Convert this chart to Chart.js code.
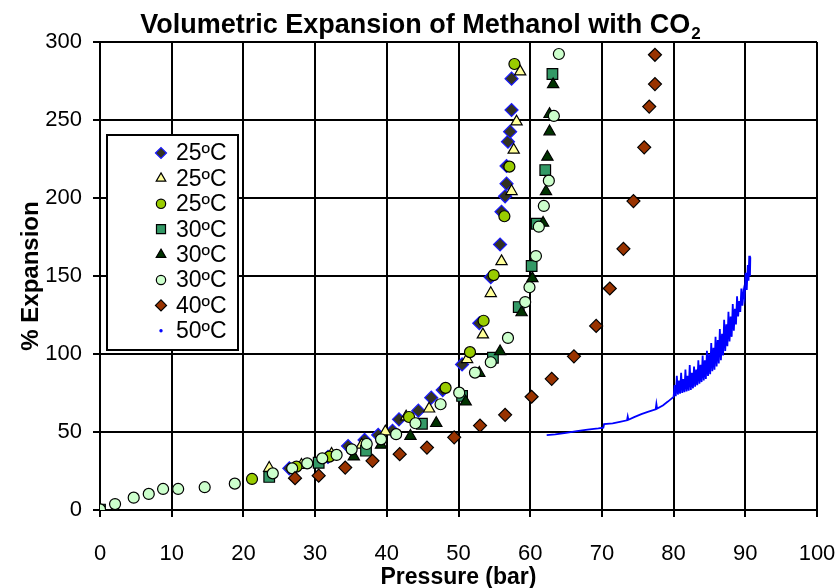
<!DOCTYPE html>
<html>
<head>
<meta charset="utf-8">
<script src="https://cdn.jsdelivr.net/npm/chart.js@4.4.0/dist/chart.umd.min.js"></script>
<style>
  html, body { margin: 0; padding: 0; background: #fff; }
  #wrap { width: 839px; height: 588px; }
</style>
</head>
<body>
<div id="wrap"><canvas id="grafico" width="839" height="588"></canvas></div>
<script>
// ---------------- DATOS ----------------

// 25°C (rombos)
const pres25a = [26.4, 31.8, 34.6, 36.9, 38.8, 40.8, 41.7, 44.4, 46.2, 47.8, 50.5, 52.9, 54.5, 55.8, 56.0, 56.5, 56.7, 56.7, 56.9, 57.2, 57.4, 57.4];
const exp25a  = [26.7, 34.0, 41.0, 44.9, 48.1, 50.8, 58.1, 63.7, 72.0, 76.9, 93.3, 119.7, 149.2, 170.2, 191.2, 201.1, 209.2, 220.5, 236.1, 242.5, 256.4, 276.5];

// 25°C (triangulos claros)
const pres25b = [23.6, 28.1, 32.3, 36.5, 39.8, 42.7, 45.9, 51.2, 53.4, 54.5, 56.0, 57.4, 57.7, 58.1, 58.6];
const exp25b  = [26.9, 28.8, 35.9, 41.7, 50.2, 59.8, 64.9, 96.6, 112.4, 138.9, 159.4, 204.3, 230.8, 248.9, 281.0];

// 25°C (circulos verde limon)
const pres25c = [21.2, 27.4, 32.0, 43.1, 48.2, 51.6, 53.5, 54.9, 56.4, 57.1, 57.8];
const exp25c  = [19.9, 27.8, 34.2, 59.6, 78.3, 101.2, 121.3, 150.6, 188.3, 220.1, 285.9];

// 30°C (cuadrados)
const pres30a = [0, 23.6, 30.5, 37.1, 44.9, 50.5, 54.8, 58.4, 60.2, 60.9, 62.1, 63.1];
const exp30a  = [0.3, 21.2, 30.3, 38.0, 55.3, 73.1, 97.6, 130.1, 156.4, 183.5, 217.9, 279.5];

// 30°C (triangulos oscuros)
const pres30b = [35.4, 39.2, 43.3, 46.9, 51.0, 52.9, 55.8, 58.8, 60.3, 61.8, 62.2, 62.4, 62.7, 62.7, 63.2];
const exp30b  = [34.2, 41.7, 47.4, 55.6, 69.4, 87.8, 101.6, 126.6, 148.5, 184.0, 204.2, 226.3, 242.6, 253.7, 272.8];

// 30°C (circulos verde claro)
const pres30c = [0, 2.1, 4.7, 6.8, 8.8, 10.9, 14.6, 18.8, 24.1, 26.8, 28.9, 31.0, 33.0, 35.1, 37.2, 39.2, 41.3, 44.0, 47.5, 50.1, 52.3, 54.5, 56.9, 59.3, 59.9, 60.8, 61.2, 61.9, 62.6, 63.3, 64.0];
const exp30c  = [0.4, 3.8, 7.9, 10.3, 13.5, 13.5, 14.6, 16.9, 23.5, 26.7, 29.9, 33.1, 35.3, 38.9, 42.3, 45.3, 48.6, 55.6, 67.8, 75.2, 88.1, 94.7, 110.3, 133.3, 142.8, 162.8, 181.6, 194.9, 211.1, 252.6, 292.3];

// 40°C (rombos marrones)
const pres40 = [27.2, 30.5, 34.2, 38.0, 41.8, 45.6, 49.4, 53.0, 56.5, 60.2, 63.0, 66.1, 69.2, 71.1, 73.0, 74.4, 75.9, 76.6, 77.4, 77.4];
const exp40  = [20.4, 22.0, 27.2, 31.5, 35.8, 40.0, 46.6, 54.1, 61.0, 72.6, 84.1, 98.5, 118, 142, 167.4, 198, 232.5, 258.6, 273, 291.8];

// 50°C (registro continuo, linea azul con ruido)
const pres50 = [62.3, 63.5, 65.0, 66.5, 68.0, 69.5, 70.2, 70.3, 71.5, 72.5, 73.5, 73.6, 73.7, 74.5, 75.5, 76.5, 77.5, 77.6, 77.7, 78.5, 79.2,
                80.0, 80.15, 80.3, 80.45, 80.6, 80.75, 80.9, 81.05, 81.2, 81.35, 81.5, 81.65, 81.8, 81.95, 82.1, 82.25, 82.4, 82.55, 82.7, 82.85,
                83.0, 83.15, 83.3, 83.45, 83.6, 83.75, 83.9, 84.05, 84.2, 84.35, 84.5, 84.65, 84.8, 84.95, 85.1, 85.25, 85.4, 85.55, 85.7, 85.85,
                86.0, 86.15, 86.3, 86.45, 86.6, 86.75, 86.9, 87.05, 87.2, 87.35, 87.5, 87.65, 87.8, 87.95, 88.1, 88.25, 88.4, 88.55, 88.7, 88.85,
                89.0, 89.15, 89.3, 89.45, 89.6, 89.75, 89.9, 90.05, 90.2, 90.35, 90.45, 90.55, 90.65, 90.7];
const exp50  = [48, 48.5, 49.5, 50.5, 51.5, 52.3, 52.8, 55, 55.5, 56.5, 57.5, 60, 57.8, 59.5, 61.5, 63, 64.5, 68, 65, 67, 69.5,
                72.5, 80, 73, 86, 74, 83, 74.5, 88, 75, 84, 75.5, 90, 76, 86, 76.5, 93, 77, 88, 78, 92,
                79, 90, 80, 96, 81, 93, 82, 99, 83, 96, 84, 102, 86, 100, 87, 107, 89, 104, 90, 111,
                92, 109, 94, 116, 96, 113, 99, 122, 102, 119, 105, 127, 108, 124, 111, 132, 115, 129, 119, 137,
                124, 134, 127, 142, 131, 140, 136, 152, 141, 157, 147, 163, 150, 162];

const etiquetas = ['25ºC', '25ºC', '25ºC', '30ºC', '30ºC', '30ºC', '40ºC', '50ºC'];
const xTicks = [0, 10, 20, 30, 40, 50, 60, 70, 80, 90, 100];
const yTicks = [0, 50, 100, 150, 200, 250, 300];

// ---------------- HELPERS ----------------

function pares(xs, ys) {
    return xs.map((x, i) => ({ x: x, y: ys[i] }));
}

const FUENTE = "'Liberation Sans', Arial, sans-serif";

// estilos de cada serie (marcadores tipo Excel)
const estilos = [
    { pointStyle: 'rectRot',  radius: 6.5, bg: '#333322', border: '#1a1aff' },
    { pointStyle: 'triangle', radius: 6.5, bg: '#ffff99', border: '#000000' },
    { pointStyle: 'circle',   radius: 5.5, bg: '#99cc00', border: '#000000' },
    { pointStyle: 'rect',     radius: 7.5, bg: '#339966', border: '#000000' },
    { pointStyle: 'triangle', radius: 6.5, bg: '#003300', border: '#000000' },
    { pointStyle: 'circle',   radius: 5.5, bg: '#ccffcc', border: '#000000' },
    { pointStyle: 'rectRot',  radius: 6.5, bg: '#993300', border: '#000000' },
    { pointStyle: 'circle',   radius: 1.3, bg: '#0000ff', border: '#0000ff' }
];

const series = [
    pares(pres25a, exp25a), pares(pres25b, exp25b), pares(pres25c, exp25c),
    pares(pres30a, exp30a), pares(pres30b, exp30b), pares(pres30c, exp30c),
    pares(pres40, exp40), pares(pres50, exp50)
];

const datasets = series.map((d, i) => {
    const e = estilos[i];
    const esLinea = (i === 7);
    return {
        label: etiquetas[i],
        data: d,
        showLine: esLinea,
        borderColor: e.border,
        backgroundColor: e.bg,
        borderWidth: esLinea ? 1.8 : 1.2,
        pointStyle: e.pointStyle,
        pointRadius: esLinea ? 0 : e.radius,
        pointBackgroundColor: e.bg,
        pointBorderColor: e.border,
        pointBorderWidth: 1.2,
        order: 8 - i   // las ultimas series quedan encima
    };
});

// ---------------- PLUGINS ----------------

// titulo con subindice en CO2
const tituloPlugin = {
    id: 'tituloCO2',
    afterDraw(chart) {
        const ctx = chart.ctx;
        const main = 'Volumetric Expansion of Methanol with CO';
        ctx.save();
        ctx.fillStyle = '#000';
        ctx.textBaseline = 'alphabetic';
        ctx.font = 'bold 27px ' + FUENTE;
        const w1 = ctx.measureText(main).width;
        ctx.font = 'bold 17px ' + FUENTE;
        const w2 = ctx.measureText('2').width;
        const x0 = 420 - (w1 + w2) / 2;
        ctx.font = 'bold 27px ' + FUENTE;
        ctx.textAlign = 'left';
        ctx.fillText(main, x0, 33);
        ctx.font = 'bold 17px ' + FUENTE;
        ctx.fillText('2', x0 + w1 + 1, 39);
        ctx.restore();
    }
};

// leyenda dentro del area de grafico
const leyendaPlugin = {
    id: 'leyendaInterna',
    afterDraw(chart) {
        const ctx = chart.ctx;
        const left = 107, top = 135, w = 131, h = 215;
        ctx.save();
        ctx.fillStyle = '#fff';
        ctx.fillRect(left, top, w, h);
        ctx.lineWidth = 2;
        ctx.strokeStyle = '#000';
        ctx.strokeRect(left, top, w, h);
        ctx.font = '23px ' + FUENTE;
        ctx.textBaseline = 'middle';
        ctx.textAlign = 'left';
        etiquetas.forEach((txt, i) => {
            const e = estilos[i];
            const y = top + 18 + i * 25.4;
            ctx.fillStyle = e.bg;
            ctx.strokeStyle = e.border;
            ctx.lineWidth = 1.2;
            Chart.helpers.drawPoint(ctx, { pointStyle: e.pointStyle, radius: e.radius * 0.85, rotation: 0, borderWidth: 1.2 }, left + 54, y);
            ctx.fillStyle = '#000';
            ctx.fillText(txt, left + 69, y + 1);
        });
        ctx.restore();
    }
};

// ---------------- GRAFICO ----------------

document.addEventListener('DOMContentLoaded', function () {
    const ctx = document.getElementById('grafico').getContext('2d');
    new Chart(ctx, {
        type: 'scatter',
        data: { datasets: datasets },
        options: {
            responsive: false,
            animation: false,
            devicePixelRatio: 1,
            layout: { padding: { top: 42, right: 22, left: 0, bottom: 0 } },
            plugins: {
                legend: { display: false },
                title: { display: false },
                tooltip: { enabled: false }
            },
            scales: {
                x: {
                    type: 'linear',
                    min: 0,
                    max: 100,
                    // alto fijo y sin margen extra por la etiqueta "100"
                    afterFit: s => { s.height = 78; s.paddingRight = 0; s.paddingLeft = 0; },
                    afterBuildTicks: s => { s.ticks = xTicks.map(v => ({ value: v })); },
                    grid: { color: '#000', lineWidth: 2, tickLength: 7 },
                    border: { color: '#000', width: 2 },
                    ticks: { color: '#000', padding: 24, maxRotation: 0, font: { family: FUENTE, size: 22 } },
                    title: {
                        display: true,
                        text: 'Pressure (bar)',
                        color: '#000',
                        padding: { top: 0, bottom: -3 },
                        font: { family: FUENTE, size: 23, weight: 'bold' }
                    }
                },
                y: {
                    type: 'linear',
                    min: 0,
                    max: 300,
                    afterFit: s => { s.width = 100; s.paddingTop = 0; s.paddingBottom = 0; },
                    afterBuildTicks: s => { s.ticks = yTicks.map(v => ({ value: v })); },
                    grid: { color: '#000', lineWidth: 2, tickLength: 7 },
                    border: { color: '#000', width: 2 },
                    ticks: { color: '#000', padding: 11, font: { family: FUENTE, size: 22 } },
                    title: {
                        display: true,
                        text: '% Expansion',
                        color: '#000',
                        padding: { top: 17, bottom: 0 },
                        font: { family: FUENTE, size: 24, weight: 'bold' }
                    }
                }
            }
        },
        plugins: [tituloPlugin, leyendaPlugin]
    });
});
</script>
</body>
</html>
